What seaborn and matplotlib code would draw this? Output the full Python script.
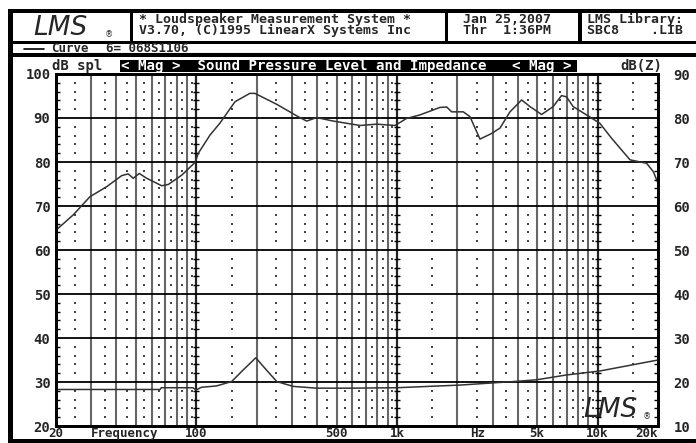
import matplotlib
matplotlib.use("Agg")
import matplotlib.pyplot as plt
from matplotlib.patches import Rectangle
from matplotlib.ticker import MultipleLocator, NullLocator
import pandas as pd
import seaborn as sns

# SPL curve (dB spl, left axis)
spl_freq = [20, 24.4, 29.5, 35.8, 42.5, 45.8, 48.5, 52, 56.6, 67.3, 72.6, 84.6, 98.6,
            102.4, 117, 131, 156, 185, 196, 252, 322, 355, 398, 482, 562, 655, 793,
            978, 1117, 1302, 1638, 1770, 1874, 2142, 2312, 2594, 2967, 3262, 3659,
            4183, 4600, 5260, 6010, 6610, 7000, 7550, 8810, 10260, 11740, 14500,
            17550, 18960, 20000]
spl_db = [64.5, 68, 72.1, 74.4, 76.9, 77.3, 76.3, 77.4, 76.3, 74.6, 74.9, 77, 79.9,
          82, 86.1, 88.8, 93.7, 95.6, 95.6, 93.1, 90.3, 89.3, 90.1, 89.3, 88.8, 88.3,
          88.6, 88.3, 89.9, 90.7, 92.4, 92.5, 91.4, 91.4, 90.3, 85.2, 86.5, 87.7,
          91.4, 94.1, 92.6, 90.8, 92.6, 95.1, 94.8, 92.6, 90.7, 88.8, 85.4, 80.5,
          79.7, 77.8, 75.2]

# impedance curve (dB(Z), right axis)
imp_freq = [20, 66, 67, 96, 100, 106, 126, 150, 171, 198, 224, 252, 304, 398, 583,
            1000, 2060, 3800, 4970, 7000, 10260, 20000]
imp_dbz = [18.3, 18.3, 18.7, 18.7, 18.2, 18.8, 19.1, 20.1, 22.7, 25.5, 22.7, 20.1,
           19.0, 18.6, 18.6, 18.7, 19.3, 20.1, 20.5, 21.6, 22.5, 25.0]

x_ticks = [20, 44, 100, 500, 1000, 2530, 5000, 10000, 20000]
x_labels = ["20", "Frequency", "100", "500", "1k", "Hz", "5k", "10k", "20k"]
left_ticks = list(range(20, 101, 10))
right_ticks = list(range(10, 91, 10))

W, H = 696, 443


def fx(px):
    return px / W


def fy(py):
    return 1 - py / H


sns.set_style("white")
plt.rcParams["font.family"] = ["DejaVu Sans Mono", "DejaVu Sans"]
plt.rcParams["font.weight"] = "bold"

fig = plt.figure(figsize=(W / 100, H / 100), dpi=100)


def bar(x0, y0, x1, y1, color="black"):
    fig.patches.append(Rectangle((fx(x0), fy(y1)), fx(x1) - fx(x0), fy(y0) - fy(y1),
                                 transform=fig.transFigure, facecolor=color,
                                 edgecolor="none", zorder=-1))


# frame of the LMS screen
bar(8, 9, 696, 13)
bar(8, 9, 13, 443)
bar(8, 439, 696, 443)
bar(8, 41, 696, 44)
bar(8, 53, 696, 57)
bar(130, 13, 133, 41)
bar(445, 13, 448, 41)
bar(578, 13, 582, 41)

# header texts
fig.text(fx(33), fy(28), "LMS", family="DejaVu Sans", style="italic",
         weight="normal", fontsize=19, va="center")
fig.text(fx(105), fy(35), "®", family="DejaVu Sans", weight="normal", fontsize=6,
         va="center")
fig.text(fx(139), fy(25), "* Loudspeaker Measurement System *\nV3.70, (C)1995 LinearX Systems Inc",
         fontsize=9.5, va="center", linespacing=0.82)
fig.text(fx(463), fy(25), "Jan 25,2007\nThr  1:36PM", fontsize=9.5, va="center",
         linespacing=0.82)
fig.text(fx(587), fy(25), "LMS Library:\nSBC8    .LIB", fontsize=9.5, va="center",
         linespacing=0.82)

# curve row
fig.lines.append(plt.Line2D([fx(24), fx(44)], [fy(48.5), fy(48.5)], color="black",
                            lw=1.2, transform=fig.transFigure))
fig.lines.append(plt.Line2D([fx(50), fx(350)], [fy(52.5), fy(52.5)], color="black",
                            lw=0.8, transform=fig.transFigure))
fig.text(fx(51), fy(48), "Curve", fontsize=9, va="center")
fig.text(fx(106), fy(48), "6= 068S1106", fontsize=9, va="center")

# plot title bar
bar(120, 60, 577, 72)
fig.text(fx(121), fy(66), "< Mag >  Sound Pressure Level and Impedance   < Mag >",
         fontsize=10.2, color="white", va="center")
fig.text(fx(52), fy(66), "dB spl", fontsize=10, va="center")
fig.text(fx(620), fy(66), "dB(Z)", fontsize=10, va="center")

ax = fig.add_axes([fx(56), fy(426), fx(658) - fx(56), fy(74) - fy(426)])
ax.set_xscale("log")
ax.set_xlim(20, 20000)
ax.set_ylim(20, 100)

# grid: log lines, 10 dB lines, dot raster, decade dashes
for dec in [10, 100, 1000, 10000]:
    for n in range(2, 10):
        f = n * dec
        if 20 < f < 20000:
            ax.axvline(f, color="#666666", lw=1.5, zorder=1)
for f in [100, 1000, 10000]:
    ax.axvline(f, color="#222222", lw=1.6, zorder=1)
for db in range(30, 100, 10):
    ax.axhline(db, color="black", lw=1.3, zorder=1)

minor_db = [d for d in range(22, 100, 2) if d % 10]
dot_f = [n + 5 for n in range(20, 100, 10)]
dot_f += [1.5 * d for d in [100, 1000, 10000]]
dot_f += [(n + 0.5) * d for d in [100, 1000] for n in range(2, 10)]
ax.scatter([f for f in dot_f for _ in minor_db], [d for _ in dot_f for d in minor_db],
           marker="s", s=0.7, color="#444444", linewidths=0, zorder=1)
ax.scatter([f for f in [100, 1000, 10000] for _ in minor_db],
           [d for _ in range(3) for d in minor_db],
           marker="_", s=25, color="black", linewidths=1, zorder=1)

spl = pd.DataFrame({"freq": spl_freq, "db": spl_db})
sns.lineplot(data=spl, x="freq", y="db", ax=ax, color="#333333", lw=1.1, zorder=3)

ax.set_xticks(x_ticks, x_labels)
ax.xaxis.set_minor_locator(NullLocator())
ax.get_xticklabels()[-1].set_ha("right")
ax.set_yticks(left_ticks)
ax.yaxis.set_minor_locator(MultipleLocator(2))
ax.tick_params(axis="x", which="both", length=0, pad=0.5, labelsize=9)
ax.tick_params(axis="y", which="major", length=0, pad=4, labelsize=10)
ax.tick_params(axis="y", which="minor", direction="in", length=3, width=1,
               left=True, right=False, color="black")
ax.set_xlabel("")
ax.set_ylabel("")
for s in ax.spines.values():
    s.set_color("black")
    s.set_linewidth(2)

ax2 = ax.twinx()
ax2.set_ylim(10, 90)
imp = pd.DataFrame({"freq": imp_freq, "dbz": imp_dbz})
sns.lineplot(data=imp, x="freq", y="dbz", ax=ax2, color="#333333", lw=1.1)
ax2.set_yticks(right_ticks)
ax2.yaxis.set_minor_locator(MultipleLocator(2))
ax2.tick_params(axis="y", which="major", length=0, pad=11, labelsize=10)
ax2.tick_params(axis="y", which="minor", direction="in", length=3, width=1,
                right=True, color="black")
ax2.set_ylabel("")
for s in ax2.spines.values():
    s.set_color("black")
    s.set_linewidth(2)

# LMS logo inside the plot
fig.text(fx(583), fy(410), "LMS", family="DejaVu Sans", style="italic",
         weight="normal", fontsize=19, va="center")
fig.text(fx(643), fy(417), "®", family="DejaVu Sans", weight="normal", fontsize=6,
         va="center")

fig.savefig("out.png", dpi=100)
